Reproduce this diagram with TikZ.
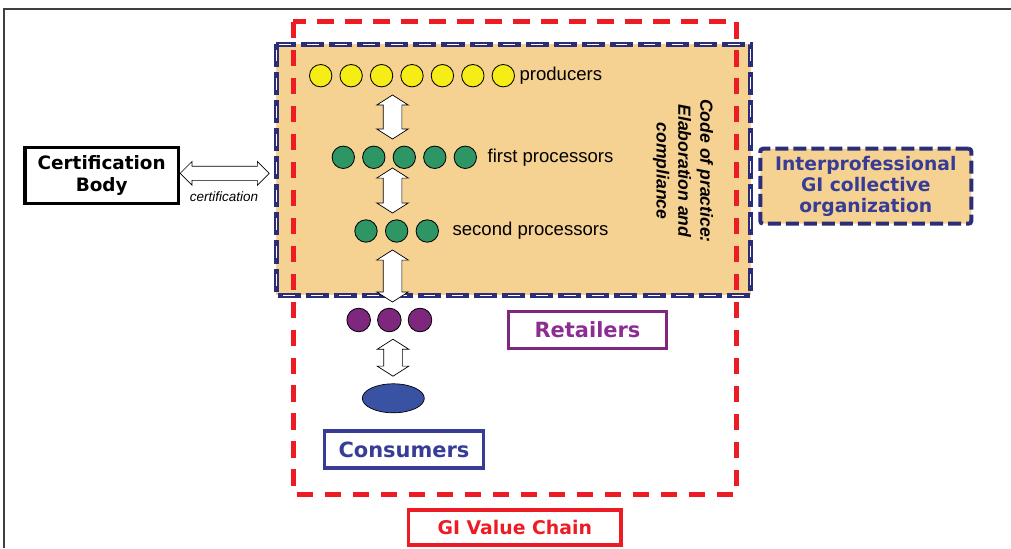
\documentclass[tikz,border=0pt]{standalone}
\usepackage{fontspec}
\setmainfont{Liberation Sans}
\newfontfamily\verd{DejaVu Sans}
\usepackage{tikz}
\usetikzlibrary{shapes,arrows,positioning}

\definecolor{cop}{RGB}{245,209,146}
\definecolor{navy}{RGB}{43,45,120}
\definecolor{gired}{RGB}{237,28,36}
\definecolor{prodyellow}{RGB}{246,236,22}
\definecolor{procgreen}{RGB}{45,150,100}
\definecolor{retpurple}{RGB}{125,40,125}
\definecolor{consblue}{RGB}{58,82,164}
\definecolor{retbox}{RGB}{140,45,145}
\definecolor{consbox}{RGB}{55,60,150}

\begin{document}
\begin{tikzpicture}[x=0.025cm,y=-0.025cm,
  dot/.style={circle,draw=black,line width=0.6pt,minimum size=0.56cm,inner sep=0},
  varrow/.style={double arrow,draw=black,fill=white,line width=0.5pt,inner xsep=0,inner ysep=0.225cm,
    rotate=90,double arrow head extend=0.1625cm,double arrow tip angle=115},
  harrow/.style={double arrow,draw=black,fill=white,line width=0.5pt,inner xsep=0,inner ysep=0.1675cm,
    double arrow head extend=0.12cm},
  namebox/.style={draw,line width=2.35pt,minimum width=3.96cm,minimum height=0.93cm,
    font=\verd\bfseries\fontsize{14.9}{17}\selectfont},
  rowlabel/.style={inner sep=0,font=\fontsize{13.2}{15}\selectfont}]
\useasboundingbox (0,0) rectangle (1011,548);

% frame
\draw[black!75,line width=1.4pt] (4,548) -- (4,9) -- (1011,9);

% code of practice area
\fill[cop] (276,44) rectangle (750.8,295);
\draw[gired,line width=3.56pt,dash pattern=on 11.7pt off 8.2pt] (293.4,21.7) rectangle (736.8,494);
\draw[navy,line width=3.56pt,dash pattern=on 16.4pt off 3.56pt] (276,44) rectangle (750.8,295);
\draw[white,line width=0.7pt,dash pattern=on 8.4pt off 11.56pt,dash phase=15.96pt] (276,44) rectangle (750.8,295);

\node[rotate=-90,align=center,font=\bfseries\itshape\fontsize{12.5}{15.6}\selectfont] (code) at (683,171)
  {Code of practice:\\Elaboration and\\compliance};

% interprofessional organization
\node[draw=navy,fill=cop,line width=2.85pt,dash pattern=on 9.25pt off 3.56pt,rounded corners=2pt,
  minimum width=5.275cm,minimum height=1.875cm,align=center,text=consbox,
  font=\verd\bfseries\fontsize{13.3}{14.9}\selectfont] (igo) at (865.8,186.2)
  {Interprofessional\\GI collective\\organization};

% certification
\node[draw=black,line width=2.35pt,minimum width=3.83cm,minimum height=1.39cm,align=center,
  font=\verd\bfseries\fontsize{13.1}{15.6}\selectfont] (cert) at (101.7,175.5) {Certification\\Body};
\node[harrow,minimum height=2.225cm] (certarrow) at (224.7,173.3) {};
\node[font=\itshape\fontsize{9.6}{11}\selectfont] (certlabel) at (224,197) {certification};

% producers and processors
\foreach \i in {1,...,7}
  \node[dot,fill=prodyellow] (prod\i) at ({320.7+30.43*(\i-1)},75.7) {};
\foreach \i in {1,...,5}
  \node[dot,fill=procgreen] (first\i) at ({343.3+30.5*(\i-1)},157.3) {};
\foreach \i in {1,...,3}
  \node[dot,fill=procgreen] (second\i) at ({366+30.65*(\i-1)},231) {};
\foreach \i in {1,...,3}
  \node[dot,minimum size=0.59cm,fill=retpurple] (ret\i) at ({358.7+30.65*(\i-1)},320) {};

\node[rowlabel,right=0.11cm of prod7] (prodlabel) {producers};
\node[rowlabel,right=0.26cm of first5] (firstlabel) {first processors};
\node[rowlabel,right=0.335cm of second3] (secondlabel) {second processors};

% links along the chain
\node[varrow,minimum height=1.1cm] (link1) at (392.5,117) {};
\node[varrow,minimum height=1.125cm] (link2) at (392.5,190.5) {};
\node[varrow,minimum height=1.3cm] (link3) at (392.5,276) {};
\node[varrow,minimum height=0.925cm] (link4) at (393,357.7) {};

% consumers
\node[ellipse,draw=black,line width=0.5pt,fill=consblue,minimum width=1.55cm,minimum height=0.725cm,
  inner sep=0] (cons) at (393.3,398.3) {};

\node[namebox,draw=retpurple,text=retbox] (retailers) at (587.5,330) {Retailers};
\node[namebox,draw=consbox,text=consbox] (consumers) at (404,449.5) {Consumers};
\node[namebox,draw=gired,text=gired,minimum width=5.31cm,minimum height=0.875cm,
  font=\verd\bfseries\fontsize{13.4}{15}\selectfont] (chain) at (514.8,527.5) {GI Value Chain};

\end{tikzpicture}
\end{document}
